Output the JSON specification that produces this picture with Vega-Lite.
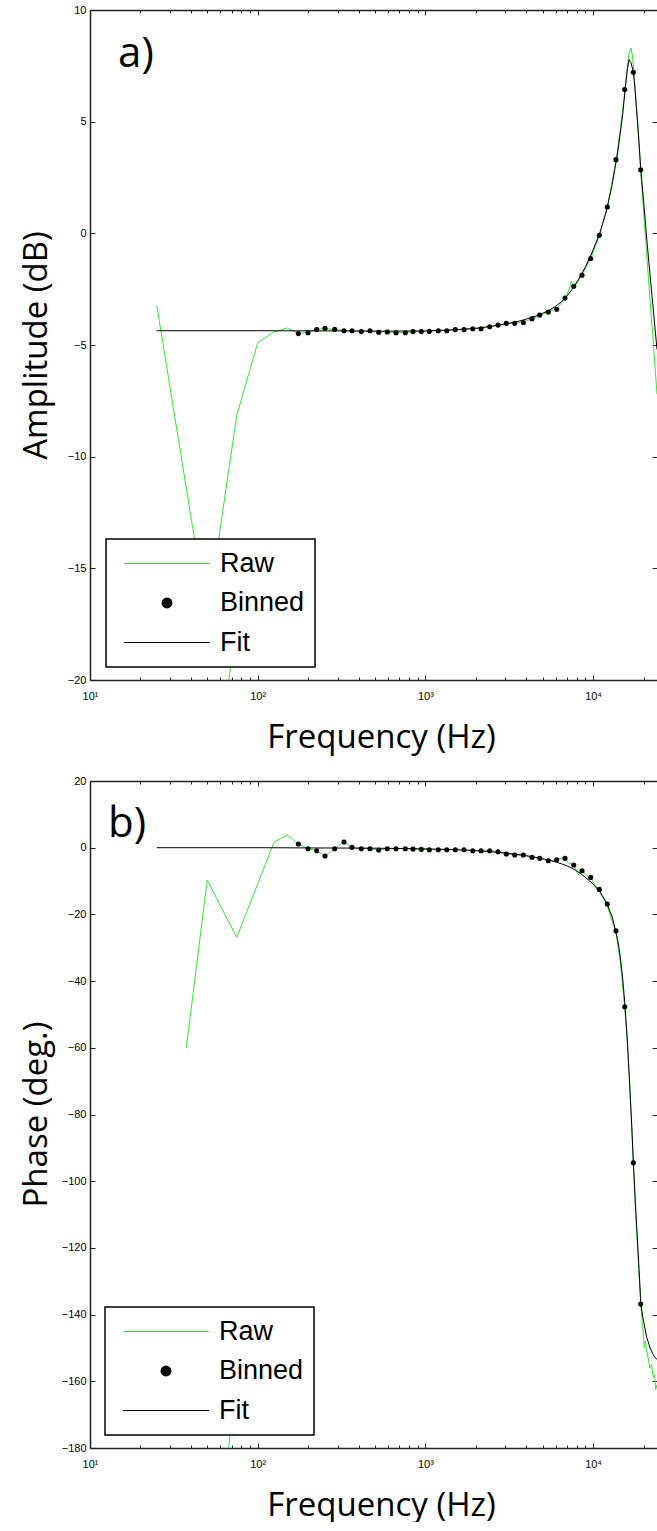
{
"$schema": "https://vega.github.io/schema/vega-lite/v6.json",
"background": "white",
"padding": {"left": 20, "top": 4, "right": 0, "bottom": 0},
"config": {"view": {"stroke": null}, "font": "Liberation Sans"},
"spacing": 21,
"resolve": {"scale": {"color": "independent", "x": "independent", "y": "independent"}, "legend": {"color": "independent"}},
"datasets": {
"amp": [
{"s":"Raw","g":1,"f":25,"v":-3.22},{"s":"Raw","g":1,"f":50,"v":-17.2},{"s":"Raw","g":1,"f":75,"v":-8.15},{"s":"Raw","g":1,"f":100,"v":-4.9},{"s":"Raw","g":1,"f":125,"v":-4.42},{"s":"Raw","g":1,"f":150,"v":-4.24},{"s":"Raw","g":1,"f":175,"v":-4.48},{"s":"Raw","g":1,"f":200,"v":-4.44},{"s":"Raw","g":1,"f":225,"v":-4.3},{"s":"Raw","g":1,"f":252,"v":-4.26},{"s":"Raw","g":1,"f":288,"v":-4.31},{"s":"Raw","g":1,"f":327,"v":-4.35},{"s":"Raw","g":1,"f":365,"v":-4.37},{"s":"Raw","g":1,"f":415,"v":-4.39},{"s":"Raw","g":1,"f":467,"v":-4.37},{"s":"Raw","g":1,"f":527,"v":-4.42},{"s":"Raw","g":1,"f":593,"v":-4.41},{"s":"Raw","g":1,"f":668,"v":-4.45},{"s":"Raw","g":1,"f":759,"v":-4.44},{"s":"Raw","g":1,"f":844,"v":-4.41},{"s":"Raw","g":1,"f":945,"v":-4.4},{"s":"Raw","g":1,"f":1055,"v":-4.38},{"s":"Raw","g":1,"f":1194,"v":-4.36},{"s":"Raw","g":1,"f":1340,"v":-4.35},{"s":"Raw","g":1,"f":1508,"v":-4.31},{"s":"Raw","g":1,"f":1699,"v":-4.3},{"s":"Raw","g":1,"f":1915,"v":-4.27},{"s":"Raw","g":1,"f":2146,"v":-4.25},{"s":"Raw","g":1,"f":2418,"v":-4.18},{"s":"Raw","g":1,"f":2710,"v":-4.1},{"s":"Raw","g":1,"f":3037,"v":-4.04},{"s":"Raw","g":1,"f":3408,"v":-4.0},{"s":"Raw","g":1,"f":3836,"v":-3.97},{"s":"Raw","g":1,"f":4322,"v":-3.82},{"s":"Raw","g":1,"f":4805,"v":-3.7},{"s":"Raw","g":1,"f":5405,"v":-3.5},{"s":"Raw","g":1,"f":6067,"v":-3.38},{"s":"Raw","g":1,"f":6500,"v":-3.1},{"s":"Raw","g":1,"f":6799,"v":-2.95},{"s":"Raw","g":1,"f":7200,"v":-2.5},{"s":"Raw","g":1,"f":7400,"v":-2.15},{"s":"Raw","g":1,"f":7663,"v":-2.4},{"s":"Raw","g":1,"f":8100,"v":-2.2},{"s":"Raw","g":1,"f":8587,"v":-1.85},{"s":"Raw","g":1,"f":9676,"v":-1.12},{"s":"Raw","g":1,"f":10890,"v":-0.12},{"s":"Raw","g":1,"f":12150,"v":1.15},{"s":"Raw","g":1,"f":13690,"v":3.25},{"s":"Raw","g":1,"f":14500,"v":4.6},{"s":"Raw","g":1,"f":15440,"v":6.3},{"s":"Raw","g":1,"f":16000,"v":7.45},{"s":"Raw","g":1,"f":16400,"v":8.05},{"s":"Raw","g":1,"f":16830,"v":8.3},{"s":"Raw","g":1,"f":17200,"v":7.9},{"s":"Raw","g":1,"f":17370,"v":7.5},{"s":"Raw","g":1,"f":17800,"v":6.5},{"s":"Raw","g":1,"f":18500,"v":4.9},{"s":"Raw","g":1,"f":19220,"v":2.8},{"s":"Raw","g":1,"f":20000,"v":1.0},{"s":"Raw","g":1,"f":21000,"v":-1.2},{"s":"Raw","g":1,"f":22000,"v":-3.3},{"s":"Raw","g":1,"f":23000,"v":-5.2},{"s":"Raw","g":1,"f":24040,"v":-7.2},
{"s":"Raw","g":2,"f":65.6,"v":-20.5},{"s":"Raw","g":2,"f":79.6,"v":-16.4},
{"s":"Fit","g":1,"f":25,"v":-4.36},{"s":"Fit","g":1,"f":100,"v":-4.36},{"s":"Fit","g":1,"f":300,"v":-4.37},{"s":"Fit","g":1,"f":600,"v":-4.38},{"s":"Fit","g":1,"f":1000,"v":-4.37},{"s":"Fit","g":1,"f":1500,"v":-4.32},{"s":"Fit","g":1,"f":2000,"v":-4.25},{"s":"Fit","g":1,"f":2500,"v":-4.16},{"s":"Fit","g":1,"f":3000,"v":-4.06},{"s":"Fit","g":1,"f":3500,"v":-3.96},{"s":"Fit","g":1,"f":4000,"v":-3.84},{"s":"Fit","g":1,"f":4500,"v":-3.72},{"s":"Fit","g":1,"f":5000,"v":-3.58},{"s":"Fit","g":1,"f":5500,"v":-3.44},{"s":"Fit","g":1,"f":6000,"v":-3.26},{"s":"Fit","g":1,"f":6500,"v":-3.05},{"s":"Fit","g":1,"f":7000,"v":-2.8},{"s":"Fit","g":1,"f":7500,"v":-2.5},{"s":"Fit","g":1,"f":8000,"v":-2.18},{"s":"Fit","g":1,"f":8500,"v":-1.85},{"s":"Fit","g":1,"f":9000,"v":-1.5},{"s":"Fit","g":1,"f":9500,"v":-1.12},{"s":"Fit","g":1,"f":10000,"v":-0.75},{"s":"Fit","g":1,"f":11000,"v":0.05},{"s":"Fit","g":1,"f":12000,"v":1.0},{"s":"Fit","g":1,"f":13000,"v":2.2},{"s":"Fit","g":1,"f":14000,"v":3.6},{"s":"Fit","g":1,"f":15000,"v":5.3},{"s":"Fit","g":1,"f":15500,"v":6.4},{"s":"Fit","g":1,"f":16000,"v":7.35},{"s":"Fit","g":1,"f":16370,"v":7.78},{"s":"Fit","g":1,"f":16800,"v":7.65},{"s":"Fit","g":1,"f":17370,"v":7.25},{"s":"Fit","g":1,"f":17800,"v":6.4},{"s":"Fit","g":1,"f":18300,"v":5.2},{"s":"Fit","g":1,"f":18800,"v":4.0},{"s":"Fit","g":1,"f":19220,"v":2.9},{"s":"Fit","g":1,"f":20000,"v":1.45},{"s":"Fit","g":1,"f":21000,"v":-0.45},{"s":"Fit","g":1,"f":22000,"v":-2.1},{"s":"Fit","g":1,"f":23000,"v":-3.65},{"s":"Fit","g":1,"f":24040,"v":-5.2},
{"s":"Binned","g":1,"f":174.7,"v":-4.49},{"s":"Binned","g":1,"f":199.5,"v":-4.45},{"s":"Binned","g":1,"f":224.8,"v":-4.31},{"s":"Binned","g":1,"f":252,"v":-4.25},{"s":"Binned","g":1,"f":287.9,"v":-4.3},{"s":"Binned","g":1,"f":327,"v":-4.36},{"s":"Binned","g":1,"f":365,"v":-4.36},{"s":"Binned","g":1,"f":414.8,"v":-4.4},{"s":"Binned","g":1,"f":467.4,"v":-4.36},{"s":"Binned","g":1,"f":526.6,"v":-4.43},{"s":"Binned","g":1,"f":592.7,"v":-4.42},{"s":"Binned","g":1,"f":667.9,"v":-4.45},{"s":"Binned","g":1,"f":759,"v":-4.45},{"s":"Binned","g":1,"f":843.6,"v":-4.4},{"s":"Binned","g":1,"f":945.4,"v":-4.4},{"s":"Binned","g":1,"f":1055,"v":-4.39},{"s":"Binned","g":1,"f":1194,"v":-4.36},{"s":"Binned","g":1,"f":1340,"v":-4.36},{"s":"Binned","g":1,"f":1508,"v":-4.31},{"s":"Binned","g":1,"f":1699,"v":-4.31},{"s":"Binned","g":1,"f":1915,"v":-4.27},{"s":"Binned","g":1,"f":2146,"v":-4.27},{"s":"Binned","g":1,"f":2418,"v":-4.18},{"s":"Binned","g":1,"f":2710,"v":-4.11},{"s":"Binned","g":1,"f":3037,"v":-4.03},{"s":"Binned","g":1,"f":3408,"v":-4.03},{"s":"Binned","g":1,"f":3836,"v":-3.99},{"s":"Binned","g":1,"f":4322,"v":-3.82},{"s":"Binned","g":1,"f":4805,"v":-3.66},{"s":"Binned","g":1,"f":5405,"v":-3.52},{"s":"Binned","g":1,"f":6067,"v":-3.4},{"s":"Binned","g":1,"f":6799,"v":-2.9},{"s":"Binned","g":1,"f":7663,"v":-2.37},{"s":"Binned","g":1,"f":8587,"v":-1.88},{"s":"Binned","g":1,"f":9676,"v":-1.13},{"s":"Binned","g":1,"f":10890,"v":-0.09},{"s":"Binned","g":1,"f":12150,"v":1.18},{"s":"Binned","g":1,"f":13690,"v":3.3},{"s":"Binned","g":1,"f":15440,"v":6.44},{"s":"Binned","g":1,"f":17370,"v":7.21},{"s":"Binned","g":1,"f":19220,"v":2.85}
],
"phase": [
{"s":"Raw","g":1,"f":37.5,"v":-60.1},{"s":"Raw","g":1,"f":50,"v":-9.7},{"s":"Raw","g":1,"f":75,"v":-26.9},{"s":"Raw","g":1,"f":125,"v":1.6},{"s":"Raw","g":1,"f":150,"v":3.8},{"s":"Raw","g":1,"f":175,"v":1.1},{"s":"Raw","g":1,"f":200,"v":-0.3},{"s":"Raw","g":1,"f":225,"v":-0.9},{"s":"Raw","g":1,"f":252,"v":-2.5},{"s":"Raw","g":1,"f":288,"v":-0.3},{"s":"Raw","g":1,"f":327,"v":1.7},{"s":"Raw","g":1,"f":365,"v":0.1},{"s":"Raw","g":1,"f":415,"v":-0.3},{"s":"Raw","g":1,"f":467,"v":-0.3},{"s":"Raw","g":1,"f":527,"v":-0.7},{"s":"Raw","g":1,"f":593,"v":-0.3},{"s":"Raw","g":1,"f":668,"v":-0.3},{"s":"Raw","g":1,"f":759,"v":-0.3},{"s":"Raw","g":1,"f":844,"v":-0.4},{"s":"Raw","g":1,"f":945,"v":-0.5},{"s":"Raw","g":1,"f":1055,"v":-0.6},{"s":"Raw","g":1,"f":1194,"v":-0.6},{"s":"Raw","g":1,"f":1340,"v":-0.6},{"s":"Raw","g":1,"f":1508,"v":-0.6},{"s":"Raw","g":1,"f":1699,"v":-0.6},{"s":"Raw","g":1,"f":1915,"v":-0.9},{"s":"Raw","g":1,"f":2146,"v":-0.9},{"s":"Raw","g":1,"f":2418,"v":-0.9},{"s":"Raw","g":1,"f":2710,"v":-1.2},{"s":"Raw","g":1,"f":3037,"v":-1.9},{"s":"Raw","g":1,"f":3408,"v":-2.2},{"s":"Raw","g":1,"f":3836,"v":-2.2},{"s":"Raw","g":1,"f":4322,"v":-2.9},{"s":"Raw","g":1,"f":4805,"v":-3.2},{"s":"Raw","g":1,"f":5405,"v":-3.9},{"s":"Raw","g":1,"f":6067,"v":-3.6},{"s":"Raw","g":1,"f":6799,"v":-2.8},{"s":"Raw","g":1,"f":7100,"v":-4.5},{"s":"Raw","g":1,"f":7663,"v":-5.2},{"s":"Raw","g":1,"f":8170,"v":-8.2},{"s":"Raw","g":1,"f":8587,"v":-6.9},{"s":"Raw","g":1,"f":9676,"v":-9.2},{"s":"Raw","g":1,"f":10890,"v":-13.0},{"s":"Raw","g":1,"f":12150,"v":-17.5},{"s":"Raw","g":1,"f":13690,"v":-25.5},{"s":"Raw","g":1,"f":14500,"v":-34},{"s":"Raw","g":1,"f":15440,"v":-48},{"s":"Raw","g":1,"f":16000,"v":-58},{"s":"Raw","g":1,"f":16500,"v":-70},{"s":"Raw","g":1,"f":17000,"v":-84},{"s":"Raw","g":1,"f":17370,"v":-95},{"s":"Raw","g":1,"f":17800,"v":-106},{"s":"Raw","g":1,"f":18300,"v":-118},{"s":"Raw","g":1,"f":18800,"v":-128},{"s":"Raw","g":1,"f":19220,"v":-137},{"s":"Raw","g":1,"f":19700,"v":-143},{"s":"Raw","g":1,"f":20000,"v":-147},{"s":"Raw","g":1,"f":20200,"v":-150},{"s":"Raw","g":1,"f":20500,"v":-148},{"s":"Raw","g":1,"f":20870,"v":-151},{"s":"Raw","g":1,"f":21300,"v":-153},{"s":"Raw","g":1,"f":21800,"v":-156},{"s":"Raw","g":1,"f":22300,"v":-155},{"s":"Raw","g":1,"f":22900,"v":-159},{"s":"Raw","g":1,"f":23300,"v":-158},{"s":"Raw","g":1,"f":23600,"v":-162.5},{"s":"Raw","g":1,"f":24040,"v":-161},
{"s":"Raw","g":2,"f":66.2,"v":-182},{"s":"Raw","g":2,"f":86,"v":-137.6},
{"s":"Fit","g":1,"f":25,"v":0},{"s":"Fit","g":1,"f":100,"v":0},{"s":"Fit","g":1,"f":500,"v":-0.15},{"s":"Fit","g":1,"f":1000,"v":-0.35},{"s":"Fit","g":1,"f":1500,"v":-0.6},{"s":"Fit","g":1,"f":2000,"v":-0.9},{"s":"Fit","g":1,"f":2500,"v":-1.25},{"s":"Fit","g":1,"f":3000,"v":-1.6},{"s":"Fit","g":1,"f":3500,"v":-2.0},{"s":"Fit","g":1,"f":4000,"v":-2.4},{"s":"Fit","g":1,"f":4500,"v":-2.85},{"s":"Fit","g":1,"f":5000,"v":-3.3},{"s":"Fit","g":1,"f":5500,"v":-3.8},{"s":"Fit","g":1,"f":6000,"v":-4.3},{"s":"Fit","g":1,"f":6500,"v":-4.85},{"s":"Fit","g":1,"f":7000,"v":-5.5},{"s":"Fit","g":1,"f":7500,"v":-6.2},{"s":"Fit","g":1,"f":8000,"v":-7.0},{"s":"Fit","g":1,"f":8500,"v":-7.9},{"s":"Fit","g":1,"f":9000,"v":-8.9},{"s":"Fit","g":1,"f":9500,"v":-9.9},{"s":"Fit","g":1,"f":10000,"v":-10.9},{"s":"Fit","g":1,"f":11000,"v":-13.3},{"s":"Fit","g":1,"f":12000,"v":-16.4},{"s":"Fit","g":1,"f":13000,"v":-20.8},{"s":"Fit","g":1,"f":14000,"v":-27.5},{"s":"Fit","g":1,"f":14500,"v":-32.5},{"s":"Fit","g":1,"f":15000,"v":-39},{"s":"Fit","g":1,"f":15440,"v":-46.5},{"s":"Fit","g":1,"f":16000,"v":-58},{"s":"Fit","g":1,"f":16500,"v":-70.5},{"s":"Fit","g":1,"f":17000,"v":-83.5},{"s":"Fit","g":1,"f":17370,"v":-94},{"s":"Fit","g":1,"f":17800,"v":-105},{"s":"Fit","g":1,"f":18300,"v":-116},{"s":"Fit","g":1,"f":18800,"v":-126.5},{"s":"Fit","g":1,"f":19220,"v":-136},{"s":"Fit","g":1,"f":19600,"v":-139.5},{"s":"Fit","g":1,"f":20000,"v":-142},{"s":"Fit","g":1,"f":20870,"v":-146.8},{"s":"Fit","g":1,"f":22000,"v":-150.3},{"s":"Fit","g":1,"f":23000,"v":-152.3},{"s":"Fit","g":1,"f":24040,"v":-153.5},
{"s":"Binned","g":1,"f":174.7,"v":1.1},{"s":"Binned","g":1,"f":199.5,"v":-0.3},{"s":"Binned","g":1,"f":224.8,"v":-0.9},{"s":"Binned","g":1,"f":252,"v":-2.5},{"s":"Binned","g":1,"f":287.9,"v":-0.3},{"s":"Binned","g":1,"f":327,"v":1.7},{"s":"Binned","g":1,"f":365,"v":0.1},{"s":"Binned","g":1,"f":414.8,"v":-0.3},{"s":"Binned","g":1,"f":467.4,"v":-0.3},{"s":"Binned","g":1,"f":526.6,"v":-0.7},{"s":"Binned","g":1,"f":592.7,"v":-0.3},{"s":"Binned","g":1,"f":667.9,"v":-0.3},{"s":"Binned","g":1,"f":759,"v":-0.3},{"s":"Binned","g":1,"f":843.6,"v":-0.4},{"s":"Binned","g":1,"f":945.4,"v":-0.5},{"s":"Binned","g":1,"f":1055,"v":-0.6},{"s":"Binned","g":1,"f":1194,"v":-0.6},{"s":"Binned","g":1,"f":1340,"v":-0.6},{"s":"Binned","g":1,"f":1508,"v":-0.6},{"s":"Binned","g":1,"f":1699,"v":-0.6},{"s":"Binned","g":1,"f":1915,"v":-0.9},{"s":"Binned","g":1,"f":2146,"v":-0.9},{"s":"Binned","g":1,"f":2418,"v":-0.9},{"s":"Binned","g":1,"f":2710,"v":-1.2},{"s":"Binned","g":1,"f":3037,"v":-1.9},{"s":"Binned","g":1,"f":3408,"v":-2.2},{"s":"Binned","g":1,"f":3836,"v":-2.2},{"s":"Binned","g":1,"f":4322,"v":-2.9},{"s":"Binned","g":1,"f":4805,"v":-3.2},{"s":"Binned","g":1,"f":5405,"v":-3.9},{"s":"Binned","g":1,"f":6067,"v":-3.6},{"s":"Binned","g":1,"f":6799,"v":-3.2},{"s":"Binned","g":1,"f":7663,"v":-5.2},{"s":"Binned","g":1,"f":8587,"v":-6.9},{"s":"Binned","g":1,"f":9676,"v":-8.9},{"s":"Binned","g":1,"f":10890,"v":-12.5},{"s":"Binned","g":1,"f":12150,"v":-16.9},{"s":"Binned","g":1,"f":13690,"v":-24.9},{"s":"Binned","g":1,"f":15440,"v":-47.7},{"s":"Binned","g":1,"f":17370,"v":-94.5},{"s":"Binned","g":1,"f":19220,"v":-136.8}
]
},
"vconcat": [
{
"width": 567, "height": 670,
"resolve": {"axis": {"x": "independent", "y": "independent"}},
"layer": [
{"data": {"name": "amp"}, "transform": [{"filter": "datum.s === 'Raw'"}],
 "mark": {"type": "line", "clip": true, "strokeWidth": 1},
 "encoding": {
  "x": {"field": "f", "type": "quantitative", "scale": {"type": "log", "domain": [10, 24040], "nice": false},
   "axis": {"orient": "bottom", "values": [10,20,30,40,50,60,70,80,90,100,200,300,400,500,600,700,800,900,1000,2000,3000,4000,5000,6000,7000,8000,9000,10000,20000],
    "labelExpr": "datum.value == 10 ? '10\u00b9' : datum.value == 100 ? '10\u00b2' : datum.value == 1000 ? '10\u00b3' : datum.value == 10000 ? '10\u2074' : ''",
    "labelOverlap": false, "labelFlush": false, "labelBound": false, "grid": false,
    "tickSize": {"condition": {"test": "datum.value == 10 || datum.value == 100 || datum.value == 1000 || datum.value == 10000", "value": -5}, "value": -3},
    "tickColor": "#222", "tickWidth": 1, "domainColor": "#222", "domainWidth": 1.5,
    "labelFont": "Liberation Sans", "labelFontSize": 11, "labelColor": "black", "labelPadding": 15,
    "title": "Frequency (Hz)", "titleFont": "Open Sans", "titleFontSize": 33, "titleFontWeight": "normal", "titleColor": "black",
    "titleX": 291, "titleY": 67, "titleBaseline": "alphabetic"}},
  "y": {"field": "v", "type": "quantitative", "scale": {"domain": [-20, 10], "nice": false, "zero": false},
   "axis": {"orient": "left", "values": [-20,-15,-10,-5,0,5,10], "grid": false, "labelOverlap": false, "labelFlush": false,
    "tickSize": -5, "tickColor": "#222", "tickWidth": 1, "domainColor": "#222", "domainWidth": 1.5,
    "labelFont": "Liberation Sans", "labelFontSize": 11, "labelColor": "black", "labelPadding": 9,
    "title": "Amplitude (dB)", "titleFont": "Open Sans", "titleFontSize": 33, "titleFontWeight": "normal", "titleColor": "black",
    "titleX": -44, "titleY": 335, "titleBaseline": "alphabetic"}},
  "detail": {"field": "g"},
  "color": {"field": "s", "type": "nominal", "scale": {"domain": ["Raw", "Binned", "Fit"], "range": ["#33e633", "black", "black"]},
   "legend": {"orient": "none", "legendX": 16, "legendY": 529, "title": null, "direction": "vertical",
    "fillColor": "white", "strokeColor": "black", "padding": 10, "clipHeight": 29, "rowPadding": 10.5,
    "symbolSize": 7396, "symbolStrokeWidth": 1.2, "symbolOffset": 7, "labelOffset": 9,
    "labelFont": "Liberation Sans", "labelFontSize": 27, "labelColor": "black", "labelLimit": 0,
    "encode": {
     "legend": {"update": {"strokeWidth": {"value": 1.5}}},
     "symbols": {"update": {
      "shape": {"signal": "datum.value === 'Binned' ? 'circle' : 'stroke'"},
      "size": {"signal": "datum.value === 'Binned' ? 95 : 7396"},
      "fill": {"signal": "datum.value === 'Binned' ? 'black' : 'transparent'"},
      "stroke": {"signal": "datum.value === 'Raw' ? '#33e633' : datum.value === 'Binned' ? 'transparent' : 'black'"},
      "strokeWidth": {"value": 1.2}, "opacity": {"value": 1}}}}}}
 }},
{"data": {"name": "amp"}, "transform": [{"filter": "datum.s === 'Fit'"}],
 "mark": {"type": "line", "clip": true, "strokeWidth": 1},
 "encoding": {
  "x": {"field": "f", "type": "quantitative", "scale": {"type": "log", "domain": [10, 24040], "nice": false},
   "axis": {"orient": "top", "values": [10,20,30,40,50,60,70,80,90,100,200,300,400,500,600,700,800,900,1000,2000,3000,4000,5000,6000,7000,8000,9000,10000,20000],
    "labels": false, "grid": false,
    "tickSize": {"condition": {"test": "datum.value == 10 || datum.value == 100 || datum.value == 1000 || datum.value == 10000", "value": -5}, "value": -3},
    "tickColor": "#222", "tickWidth": 1, "domainColor": "#222", "domainWidth": 1.5, "title": null}},
  "y": {"field": "v", "type": "quantitative", "scale": {"domain": [-20, 10], "nice": false, "zero": false},
   "axis": {"orient": "right", "values": [-20,-15,-10,-5,0,5,10], "labels": false, "grid": false, "domain": false,
    "tickSize": -5, "tickColor": "#222", "tickWidth": 1, "title": null}},
  "color": {"field": "s", "type": "nominal"}
 }},
{"data": {"name": "amp"}, "transform": [{"filter": "datum.s === 'Binned'"}],
 "mark": {"type": "point", "filled": true, "size": 26, "opacity": 1, "clip": true},
 "encoding": {
  "x": {"field": "f", "type": "quantitative", "axis": null},
  "y": {"field": "v", "type": "quantitative", "axis": null},
  "color": {"field": "s", "type": "nominal"}
 }},
{"data": {"values": [{"f": 14.7, "v": 7.43, "t": "a)"}]},
 "mark": {"type": "text", "align": "left", "baseline": "alphabetic", "font": "Open Sans", "fontSize": 42, "color": "black"},
 "encoding": {
  "x": {"field": "f", "type": "quantitative", "axis": null},
  "y": {"field": "v", "type": "quantitative", "axis": null},
  "text": {"field": "t"}
 }}
]
},
{
"width": 567, "height": 667,
"resolve": {"axis": {"x": "independent", "y": "independent"}},
"layer": [
{"data": {"name": "phase"}, "transform": [{"filter": "datum.s === 'Raw'"}],
 "mark": {"type": "line", "clip": true, "strokeWidth": 1},
 "encoding": {
  "x": {"field": "f", "type": "quantitative", "scale": {"type": "log", "domain": [10, 24040], "nice": false},
   "axis": {"orient": "bottom", "values": [10,20,30,40,50,60,70,80,90,100,200,300,400,500,600,700,800,900,1000,2000,3000,4000,5000,6000,7000,8000,9000,10000,20000],
    "labelExpr": "datum.value == 10 ? '10\u00b9' : datum.value == 100 ? '10\u00b2' : datum.value == 1000 ? '10\u00b3' : datum.value == 10000 ? '10\u2074' : ''",
    "labelOverlap": false, "labelFlush": false, "labelBound": false, "grid": false,
    "tickSize": {"condition": {"test": "datum.value == 10 || datum.value == 100 || datum.value == 1000 || datum.value == 10000", "value": -5}, "value": -3},
    "tickColor": "#222", "tickWidth": 1, "domainColor": "#222", "domainWidth": 1.5,
    "labelFont": "Liberation Sans", "labelFontSize": 11, "labelColor": "black", "labelPadding": 15,
    "title": "Frequency (Hz)", "titleFont": "Open Sans", "titleFontSize": 33, "titleFontWeight": "normal", "titleColor": "black",
    "titleX": 291, "titleY": 67, "titleBaseline": "alphabetic"}},
  "y": {"field": "v", "type": "quantitative", "scale": {"domain": [-180, 20], "nice": false, "zero": false},
   "axis": {"orient": "left", "values": [-180,-160,-140,-120,-100,-80,-60,-40,-20,0,20], "grid": false, "labelOverlap": false, "labelFlush": false,
    "tickSize": -5, "tickColor": "#222", "tickWidth": 1, "domainColor": "#222", "domainWidth": 1.5,
    "labelFont": "Liberation Sans", "labelFontSize": 11, "labelColor": "black", "labelPadding": 9,
    "title": "Phase (deg.)", "titleFont": "Open Sans", "titleFontSize": 33, "titleFontWeight": "normal", "titleColor": "black",
    "titleX": -44, "titleY": 333, "titleBaseline": "alphabetic"}},
  "detail": {"field": "g"},
  "color": {"field": "s", "type": "nominal", "scale": {"domain": ["Raw", "Binned", "Fit"], "range": ["#33e633", "black", "black"]},
   "legend": {"orient": "none", "legendX": 15, "legendY": 526, "title": null, "direction": "vertical",
    "fillColor": "white", "strokeColor": "black", "padding": 10, "clipHeight": 29, "rowPadding": 10.5,
    "symbolSize": 7396, "symbolStrokeWidth": 1.2, "symbolOffset": 7, "labelOffset": 9,
    "labelFont": "Liberation Sans", "labelFontSize": 27, "labelColor": "black", "labelLimit": 0,
    "encode": {
     "legend": {"update": {"strokeWidth": {"value": 1.5}}},
     "symbols": {"update": {
      "shape": {"signal": "datum.value === 'Binned' ? 'circle' : 'stroke'"},
      "size": {"signal": "datum.value === 'Binned' ? 95 : 7396"},
      "fill": {"signal": "datum.value === 'Binned' ? 'black' : 'transparent'"},
      "stroke": {"signal": "datum.value === 'Raw' ? '#33e633' : datum.value === 'Binned' ? 'transparent' : 'black'"},
      "strokeWidth": {"value": 1.2}, "opacity": {"value": 1}}}}}}
 }},
{"data": {"name": "phase"}, "transform": [{"filter": "datum.s === 'Fit'"}],
 "mark": {"type": "line", "clip": true, "strokeWidth": 1},
 "encoding": {
  "x": {"field": "f", "type": "quantitative", "scale": {"type": "log", "domain": [10, 24040], "nice": false},
   "axis": {"orient": "top", "values": [10,20,30,40,50,60,70,80,90,100,200,300,400,500,600,700,800,900,1000,2000,3000,4000,5000,6000,7000,8000,9000,10000,20000],
    "labels": false, "grid": false,
    "tickSize": {"condition": {"test": "datum.value == 10 || datum.value == 100 || datum.value == 1000 || datum.value == 10000", "value": -5}, "value": -3},
    "tickColor": "#222", "tickWidth": 1, "domainColor": "#222", "domainWidth": 1.5, "title": null}},
  "y": {"field": "v", "type": "quantitative", "scale": {"domain": [-180, 20], "nice": false, "zero": false},
   "axis": {"orient": "right", "values": [-180,-160,-140,-120,-100,-80,-60,-40,-20,0,20], "labels": false, "grid": false, "domain": false,
    "tickSize": -5, "tickColor": "#222", "tickWidth": 1, "title": null}},
  "color": {"field": "s", "type": "nominal"}
 }},
{"data": {"name": "phase"}, "transform": [{"filter": "datum.s === 'Binned'"}],
 "mark": {"type": "point", "filled": true, "size": 26, "opacity": 1, "clip": true},
 "encoding": {
  "x": {"field": "f", "type": "quantitative", "axis": null},
  "y": {"field": "v", "type": "quantitative", "axis": null},
  "color": {"field": "s", "type": "nominal"}
 }},
{"data": {"values": [{"f": 12.8, "v": 3.3, "t": "b)"}]},
 "mark": {"type": "text", "align": "left", "baseline": "alphabetic", "font": "Open Sans", "fontSize": 42, "color": "black"},
 "encoding": {
  "x": {"field": "f", "type": "quantitative", "axis": null},
  "y": {"field": "v", "type": "quantitative", "axis": null},
  "text": {"field": "t"}
 }}
]
}
]
}
